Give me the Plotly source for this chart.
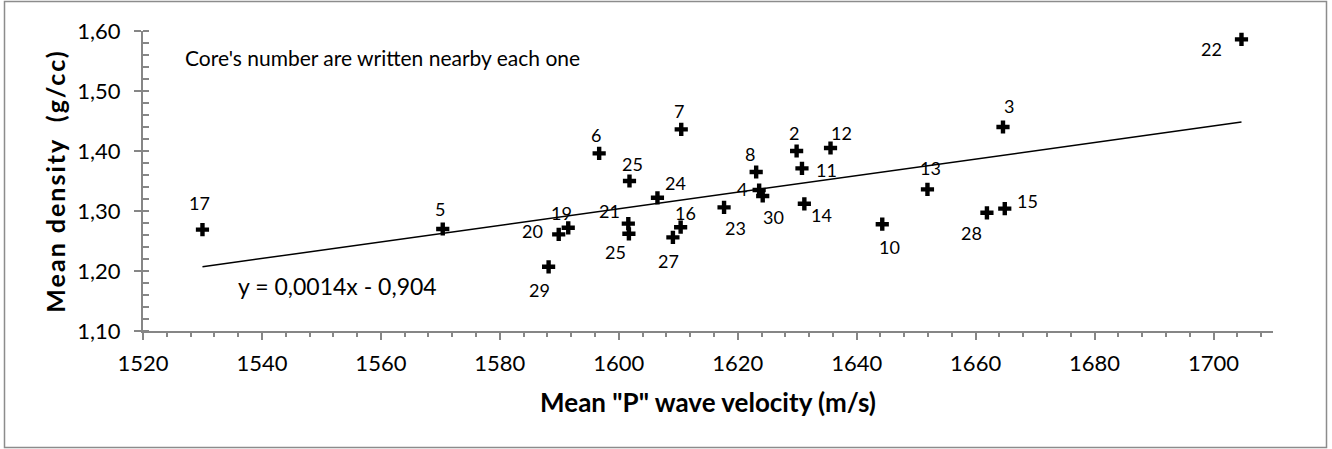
import numpy as np
import plotly.graph_objects as go

# ---- data ----
core = ["17", "5", "29", "20", "19", "6", "25", "21", "25", "24", "7", "16", "27",
        "23", "8", "4", "30", "2", "11", "12", "14", "10", "13", "28", "15", "3", "22"]
velocity = [1530.0, 1570.4, 1588.2, 1589.9, 1591.5, 1596.7, 1601.8, 1601.6, 1601.7,
            1606.5, 1610.5, 1610.4, 1609.1, 1617.7, 1623.1, 1623.6, 1624.2, 1629.9,
            1630.8, 1635.6, 1631.2, 1644.3, 1651.9, 1661.9, 1664.9, 1664.6, 1704.7]
density = [1.269, 1.270, 1.207, 1.261, 1.272, 1.396, 1.350, 1.279, 1.262, 1.322,
           1.436, 1.273, 1.256, 1.306, 1.365, 1.335, 1.325, 1.400, 1.371, 1.405,
           1.312, 1.278, 1.336, 1.297, 1.304, 1.440, 1.586]
x_ticks = [1520, 1540, 1560, 1580, 1600, 1620, 1640, 1660, 1680, 1700]
y_ticks = [1.10, 1.20, 1.30, 1.40, 1.50, 1.60]
equation_text = "y = 0,0014x - 0,904"
note_text = "Core's number are written nearby each one"
x_title = 'Mean "P" wave velocity (m/s)'
y_title = "Mean density  (g/cc)"

# label offsets in pixels (dx right, dy down) -- styling only
label_offsets = [(-3, -28), (-3, -21), (-9, 22), (-26, -4), (-7, -16), (-3, -19),
                 (3, -18), (-19, -14), (-13, 17), (18, -16), (-2, -19), (5, -15),
                 (-4, 23), (11, 20), (-6, -19), (-17, -2), (11, 20), (-3, -19),
                 (25, 1), (11, -16), (17, 10), (7, 22), (3, -22), (-15, 19),
                 (23, -9), (6, -22), (-30, 9)]

FONT = "Lato"

# linear trend computed from the data
slope, intercept = np.polyfit(velocity, density, 1)
xt = np.array([min(velocity), max(velocity)])
yt = slope * xt + intercept

fig = go.Figure()
fig.add_trace(go.Scatter(x=xt, y=yt, mode="lines",
                         line=dict(color="black", width=1.5),
                         hoverinfo="skip", showlegend=False))
fig.add_trace(go.Scatter(x=velocity, y=density, mode="markers",
                         marker=dict(symbol="cross", size=11, color="black",
                                     line=dict(width=0)),
                         text=core, showlegend=False))

annotations = []
for c, xv, yv, (dx, dy) in zip(core, velocity, density, label_offsets):
    annotations.append(dict(x=xv, y=yv, xref="x", yref="y", text=c,
                            showarrow=False, xshift=dx, yshift=-dy - 1,
                            xanchor="center", yanchor="middle",
                            font=dict(family=FONT, size=18, color="black")))
annotations.append(dict(x=0.035, y=0.912, xref="paper", yref="paper", text=note_text,
                        showarrow=False, xanchor="left", yanchor="middle",
                        font=dict(family=FONT, size=21, color="black")))
annotations.append(dict(x=0.0827, y=0.150, xref="paper", yref="paper", text=equation_text,
                        showarrow=False, xanchor="left", yanchor="middle",
                        font=dict(family=FONT, size=23, color="black")))

axis_col = "#868686"
fig.update_layout(
    width=1332, height=449,
    margin=dict(l=143, r=59, t=31, b=118, autoexpand=False),
    paper_bgcolor="white", plot_bgcolor="white",
    separators=", ",
    font=dict(family=FONT, color="black"),
    annotations=annotations,
    xaxis=dict(range=[1520, 1710], tickvals=x_ticks, showgrid=False, zeroline=False,
               showline=True, linecolor=axis_col, linewidth=2,
               ticks="outside", ticklen=7, tickwidth=2, tickcolor=axis_col,
               minor=dict(dtick=4, ticks="outside", ticklen=4, tickwidth=1.5, tickcolor=axis_col),
               tickfont=dict(family=FONT, size=22, color="black"),
               ticklabelstandoff=5,
               title=dict(text="<b>" + x_title + "</b>", standoff=18,
                          font=dict(family=FONT, size=26, color="black")),
               automargin=False),
    yaxis=dict(range=[1.10, 1.60], tickvals=y_ticks, tickformat=".2f",
               showgrid=False, zeroline=False,
               showline=True, linecolor=axis_col, linewidth=2,
               ticks="outside", ticklen=7, tickwidth=2, tickcolor=axis_col,
               minor=dict(dtick=0.02, ticks="inside", ticklen=6, tickwidth=1.5, tickcolor=axis_col),
               tickfont=dict(family=FONT, size=22, color="black"),
               ticklabelstandoff=9,
               title=dict(text="<b><span style='letter-spacing:2px'>" + y_title + "</span></b>",
                          standoff=5,
                          font=dict(family=FONT, size=25, color="black")),
               automargin=False),
    yaxis2=dict(range=[1.10, 1.60], tickvals=y_ticks, overlaying="y", anchor="x",
                side="left", showgrid=False, zeroline=False, showline=False,
                ticks="inside", ticklen=6, tickwidth=2, tickcolor=axis_col,
                showticklabels=False),
    shapes=[dict(type="rect", xref="paper", yref="paper",
                 x0=-138.5 / 1130, x1=1.0 + 53.5 / 1130,
                 y0=-116.5 / 300, y1=1.0 + 29.5 / 300,
                 line=dict(color="#8c8c8c", width=1.5))],
)

fig.write_html("out.html", config={"displayModeBar": False},
               post_script="document.body.style.margin='0px';")
